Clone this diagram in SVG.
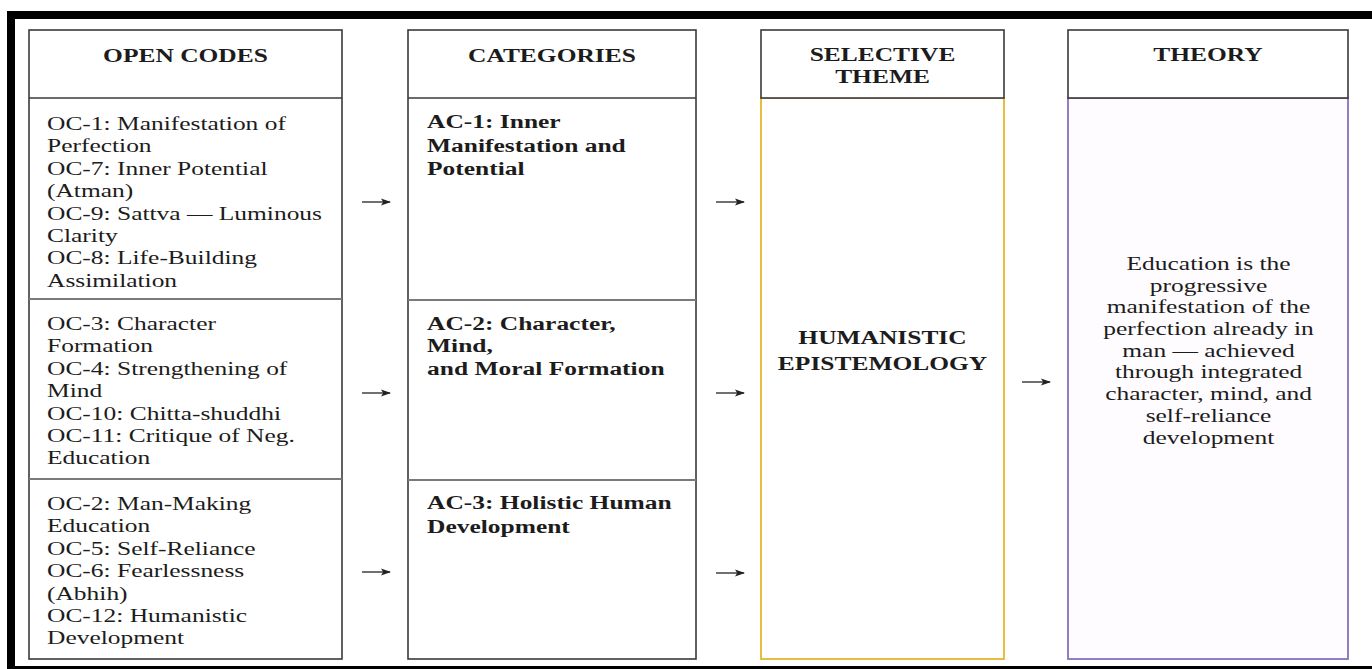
<svg xmlns="http://www.w3.org/2000/svg" width="1372" height="669" viewBox="0 0 1372 669">
  <defs>
    <marker id="ah" viewBox="0 0 10 8" refX="9" refY="4" markerWidth="10" markerHeight="8" markerUnits="userSpaceOnUse" orient="auto">
      <path d="M0,0.6 L10,4 L0,7.4 L2.2,4 Z" fill="#222"/>
    </marker>
    <style>
      .box { fill: #ffffff; stroke: #3a3a3a; stroke-width: 1.6; }
      .sep { stroke: #7a7a7a; stroke-width: 2.2; fill: none; }
      .hsep { stroke: #3a3a3a; stroke-width: 1.6; fill: none; }
      .ybody { fill: #ffffff; stroke: #e7b62c; stroke-width: 1.8; }
      .pbody { fill: #fffcff; stroke: #8672c0; stroke-width: 1.8; }
      .conn { stroke: #222; stroke-width: 1.3; fill: none; marker-end: url(#ah); }
      text { font-family: "Liberation Serif", "Times New Roman", serif; font-size: 19px; fill: #1c1c1c; }
      .b { font-weight: bold; }
      .c { text-anchor: middle; }
    </style>
  </defs>

  <rect x="0" y="0" width="1372" height="669" fill="#ffffff"/>

  <!-- outer frame -->
  <g id="frame">
    <rect x="7" y="11" width="1365" height="8" fill="#000"/>
    <rect x="7" y="11" width="8" height="658" fill="#000"/>
    <rect x="7" y="666" width="1365" height="3" fill="#000"/>
  </g>

  <!-- Open codes column -->
  <g id="open-codes">
    <rect class="box" x="29" y="30" width="313" height="629"/>
    <line class="hsep" x1="29" y1="98" x2="342" y2="98"/>
    <line class="sep" x1="29" y1="299" x2="342" y2="299"/>
    <line class="sep" x1="29" y1="479" x2="342" y2="479"/>
  </g>

  <!-- Categories column -->
  <g id="categories">
    <rect class="box" x="408" y="30" width="288" height="629"/>
    <line class="hsep" x1="408" y1="98" x2="696" y2="98"/>
    <line class="sep" x1="408" y1="300" x2="696" y2="300"/>
    <line class="sep" x1="408" y1="480" x2="696" y2="480"/>
  </g>

  <!-- Selective theme -->
  <g id="selective-theme">
    <rect class="ybody" x="761" y="98" width="243" height="561"/>
    <rect class="box" x="761" y="30" width="243" height="68"/>
  </g>

  <!-- Theory -->
  <g id="theory">
    <rect class="pbody" x="1068" y="98" width="280" height="561"/>
    <rect class="box" x="1068" y="30" width="280" height="68"/>
  </g>

  <!-- connectors -->
  <g id="connectors">
    <path class="conn" d="M362,202 H390"/>
    <path class="conn" d="M362,393 H390"/>
    <path class="conn" d="M362,572 H390"/>
    <path class="conn" d="M716,202 H744"/>
    <path class="conn" d="M716,393 H744"/>
    <path class="conn" d="M716,573 H744"/>
    <path class="conn" d="M1022,382 H1050"/>
  </g>

  <!-- all texts (horizontally stretched as in the reference) -->
  <g id="texts" transform="scale(1.34,1)">
    <text class="b c" x="138.4" y="62.5">OPEN CODES</text>
    <text class="b c" x="411.9" y="62.5">CATEGORIES</text>
    <text class="b c" x="658.6" y="61.5">SELECTIVE</text>
    <text class="b c" x="658.6" y="83">THEME</text>
    <text class="b c" x="901.5" y="61.5">THEORY</text>

    <g id="oc-row1">
      <text x="35.1" y="130">OC-1: Manifestation of</text>
      <text x="35.1" y="152.4">Perfection</text>
      <text x="35.1" y="174.8">OC-7: Inner Potential</text>
      <text x="35.1" y="197.2">(Atman)</text>
      <text x="35.1" y="219.6">OC-9: Sattva — Luminous</text>
      <text x="35.1" y="242">Clarity</text>
      <text x="35.1" y="264.4">OC-8: Life-Building</text>
      <text x="35.1" y="286.8">Assimilation</text>
    </g>
    <g id="oc-row2">
      <text x="35.1" y="330">OC-3: Character</text>
      <text x="35.1" y="352.4">Formation</text>
      <text x="35.1" y="374.8">OC-4: Strengthening of</text>
      <text x="35.1" y="397.2">Mind</text>
      <text x="35.1" y="419.6">OC-10: Chitta-shuddhi</text>
      <text x="35.1" y="442">OC-11: Critique of Neg.</text>
      <text x="35.1" y="464.4">Education</text>
    </g>
    <g id="oc-row3">
      <text x="35.1" y="510">OC-2: Man-Making</text>
      <text x="35.1" y="532.4">Education</text>
      <text x="35.1" y="554.8">OC-5: Self-Reliance</text>
      <text x="35.1" y="577.2">OC-6: Fearlessness</text>
      <text x="35.1" y="599.6">(Abhih)</text>
      <text x="35.1" y="622">OC-12: Humanistic</text>
      <text x="35.1" y="644.4">Development</text>
    </g>

    <g id="ac-1">
      <text class="b" x="318.7" y="128.5">AC-1: Inner</text>
      <text class="b" x="318.7" y="151.8">Manifestation and</text>
      <text class="b" x="318.7" y="175.1">Potential</text>
    </g>
    <g id="ac-2">
      <text class="b" x="318.7" y="330">AC-2: Character,</text>
      <text class="b" x="318.7" y="352.5">Mind,</text>
      <text class="b" x="318.7" y="375">and Moral Formation</text>
    </g>
    <g id="ac-3">
      <text class="b" x="318.7" y="509">AC-3: Holistic Human</text>
      <text class="b" x="318.7" y="533">Development</text>
    </g>

    <g id="theme-text">
      <text class="b c" x="658.6" y="344.5">HUMANISTIC</text>
      <text class="b c" x="658.6" y="370.5">EPISTEMOLOGY</text>
    </g>

    <g id="theory-text">
      <text class="c" x="901.9" y="270">Education is the</text>
      <text class="c" x="901.9" y="291.7">progressive</text>
      <text class="c" x="901.9" y="313.4">manifestation of the</text>
      <text class="c" x="901.9" y="335.1">perfection already in</text>
      <text class="c" x="901.9" y="356.8">man — achieved</text>
      <text class="c" x="901.9" y="378.5">through integrated</text>
      <text class="c" x="901.9" y="400.2">character, mind, and</text>
      <text class="c" x="901.9" y="421.9">self-reliance</text>
      <text class="c" x="901.9" y="443.6">development</text>
    </g>
  </g>
</svg>
